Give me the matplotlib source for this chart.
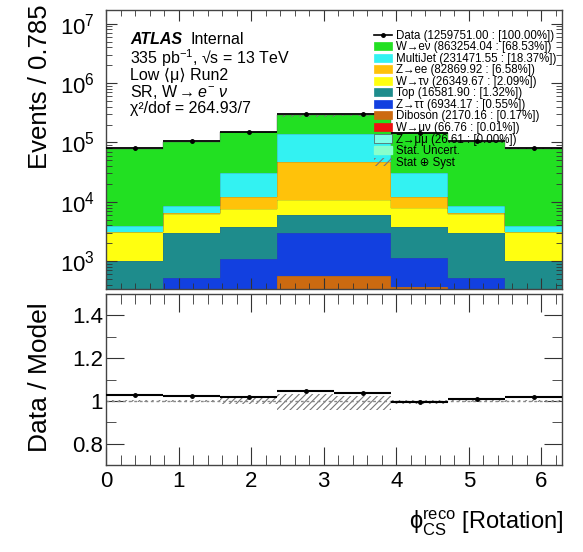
import numpy as np
import matplotlib
matplotlib.use('Agg')
import matplotlib.pyplot as plt
from matplotlib.patches import Patch
from matplotlib.lines import Line2D
from matplotlib.ticker import MultipleLocator, LogLocator, FuncFormatter, NullFormatter, LogFormatterMathtext

plt.rcParams['font.family'] = ['Liberation Sans', 'DejaVu Sans']
plt.rcParams['mathtext.fontset'] = 'custom'
plt.rcParams['mathtext.rm'] = 'Liberation Sans'
plt.rcParams['mathtext.it'] = 'Liberation Sans:italic'
plt.rcParams['mathtext.bf'] = 'Liberation Sans:bold'
plt.rcParams['hatch.linewidth'] = 0.8

# 8 bins of phi_CS over [0, 2pi]
edges = np.linspace(0, 2 * np.pi, 9)

# Event counts per bin
data = [80000, 105000, 150000, 298000, 296000, 146000, 104000, 80500]
w_enu = [73800, 94200, 117000, 143800, 144900, 116000, 94300, 75000]
multijet = [770, 2090, 18600, 94000, 94000, 18600, 2090, 770]
z_ee = [50, 200, 4380, 36440, 36440, 4380, 200, 50]
w_taunu = [2080, 3360, 3940, 4700, 4700, 3940, 3360, 2080]
top = [790, 2475, 2670, 2960, 2960, 2670, 2475, 790]
z_tautau = [150, 400, 760, 2450, 2450, 760, 400, 150]
diboson = [60, 100, 300, 540, 540, 360, 100, 60]
w_munu = [8, 8, 8, 9, 9, 8, 8, 8]
z_mumu = [3, 3, 3, 4, 4, 3, 3, 3]

# Stat (+) syst band, relative to the model
syst_lo = [0.993, 0.993, 0.985, 0.958, 0.958, 0.985, 0.994, 0.994]
syst_hi = [1.004, 1.004, 1.012, 1.030, 1.025, 1.004, 1.003, 1.003]

# stack from bottom to top
stack = [
    (z_mumu, '#7fffe6', 'Z\u2192\u03bc\u03bc (26.61 : [0.00%])'),
    (w_munu, '#ee1111', 'W\u2192\u03bc\u03bd (66.76 : [0.01%])'),
    (diboson, '#cc6a10', 'Diboson (2170.16 : [0.17%])'),
    (z_tautau, '#1240e0', 'Z\u2192\u03c4\u03c4 (6934.17 : [0.55%])'),
    (top, '#1e8c8c', 'Top (16581.90 : [1.32%])'),
    (w_taunu, '#ffff10', 'W\u2192\u03c4\u03bd (26349.67 : [2.09%])'),
    (z_ee, '#ffc20a', 'Z\u2192ee (82869.92 : [6.58%])'),
    (multijet, '#33f2f2', 'MultiJet (231471.55 : [18.37%])'),
    (w_enu, '#22e022', 'W\u2192e\u03bd (863254.04 : [68.53%])'),
]

W, H = 583, 552
fig = plt.figure(figsize=(W / 100, H / 100), dpi=100)
ax = fig.add_axes([106 / W, 1 - 289 / H, 456 / W, 279 / H])
ax2 = fig.add_axes([106 / W, 1 - 465 / H, 456 / W, 171 / H])

# stacked histogram
base = np.zeros(8)
for vals, col, lab in stack:
    top_vals = base + np.array(vals, dtype=float)
    ax.stairs(top_vals, edges, baseline=base.copy(), fill=True, color=col, lw=0)
    ax.stairs(top_vals, edges, baseline=None, color='#555555', lw=0.3)
    base = top_vals
mc_total = base

ax.stairs(mc_total * np.array(syst_hi), edges, baseline=mc_total * np.array(syst_lo),
          fill=True, facecolor='none', edgecolor='#777777', hatch='////', lw=0)

data = np.array(data, dtype=float)
centers = 0.5 * (edges[:-1] + edges[1:])
ax.hlines(data, edges[:-1], edges[1:], color='black', lw=1.3, zorder=5)
ax.errorbar(centers, data, yerr=np.sqrt(data), fmt='o', color='black', ms=2.5, lw=1, zorder=6)

ax.set_yscale('log')
ax.set_ylim(340, 1.7e7)
ax.set_xlim(0, 2 * np.pi)

# ratio panel
ratio = data / mc_total
ax2.stairs(syst_hi, edges, baseline=syst_lo, fill=True, facecolor='none',
           edgecolor='#777777', hatch='/////', lw=0)
ax2.axhline(1.0, color='#888888', lw=1, ls=(0, (2, 2)))
ax2.hlines(ratio, edges[:-1], edges[1:], color='black', lw=1.5, zorder=5)
ax2.errorbar(centers, ratio, yerr=np.sqrt(data) / mc_total, fmt='o', color='black',
             ms=2.5, lw=1, zorder=6)
ax2.set_xlim(0, 2 * np.pi)
ax2.set_ylim(0.7, 1.5)

# ticks in ROOT style
for a in (ax, ax2):
    a.xaxis.set_major_locator(MultipleLocator(1))
    a.xaxis.set_minor_locator(MultipleLocator(0.2))
    a.tick_params(which='both', direction='in', top=True, right=True, color='#333333')
    for s in a.spines.values():
        s.set_color('#444444')
        s.set_linewidth(1)

ax.tick_params(which='major', length=8, labelsize=16, pad=8)
ax.tick_params(which='minor', length=4)
ax.tick_params(axis='x', labelbottom=False)
ax.yaxis.set_major_locator(LogLocator(base=10, numticks=12))
ax.yaxis.set_minor_locator(LogLocator(base=10, subs=np.arange(2, 10), numticks=12))
ax.yaxis.set_major_formatter(LogFormatterMathtext())
ax.yaxis.set_minor_formatter(NullFormatter())

ax2.yaxis.set_major_locator(MultipleLocator(0.2))
ax2.yaxis.set_minor_locator(MultipleLocator(0.1))
ax2.yaxis.set_major_formatter(FuncFormatter(lambda v, p: '%g' % round(v, 2)))
ax2.tick_params(which='major', length=13, labelsize=16)
ax2.tick_params(which='minor', length=7)
ax2.tick_params(axis='y', pad=2)
ax2.tick_params(axis='x', pad=4)

# axis titles
fig.text(40 / W, 1 - 4 / H, 'Events / 0.785', rotation=90, ha='center', va='top', fontsize=18.5)
fig.text(40 / W, 1 - 377 / H, 'Data / Model', rotation=90, ha='center', va='center', fontsize=19)
fig.text(563 / W, 1 - 523 / H, r'$\mathrm{\phi}^{\rm reco}_{\rm CS}$ [Rotation]', ha='right', va='center',
         fontsize=17)

# labels in the top panel
fig.text(130 / W, 1 - 40 / H, 'ATLAS', fontsize=11.5, fontweight='bold', style='italic', va='center')
fig.text(190 / W, 1 - 40 / H, 'Internal', fontsize=11.5, va='center')
info = ['335 pb$^{-1}$, \u221as = 13 TeV', 'Low \u27e8\u03bc\u27e9 Run2',
        r'SR, W$\rightarrow$$e^{-}$ $\nu$', '\u03c7\u00b2/dof = 264.93/7']
for i, line in enumerate(info):
    fig.text(130 / W, 1 - (58 + 17 * i) / H, line, fontsize=11.5, va='center')

# legend
handles = [Line2D([], [], color='black', marker='o', ms=2.5, lw=1.2)]
labels = ['Data (1259751.00 : [100.00%])']
for vals, col, lab in reversed(stack):
    handles.append(Patch(facecolor=col, edgecolor='#555555' if col == '#7fffe6' else col, lw=0.5))
    labels.append(lab)
handles.append(Patch(facecolor='#88ffcc', edgecolor='#88ffcc'))
labels.append('Stat. Uncert.')
handles.append(Patch(facecolor='none', edgecolor='#777777', hatch='////', lw=0))
labels.append('Stat \u2295 Syst')
leg = ax.legend(handles, labels, loc='upper left', bbox_to_anchor=(0.575, 0.95), frameon=False,
                fontsize=8.3, borderpad=0, labelspacing=-0.04, handlelength=1.6,
                handleheight=0.7, handletextpad=0.3)
leg.set_zorder(10)

fig.savefig('out.png', dpi=100)
